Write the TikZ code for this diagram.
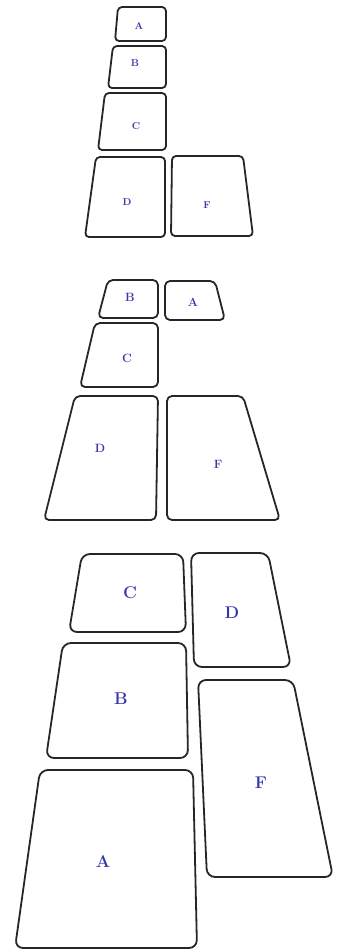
\documentclass[tikz,border=0pt]{standalone}
\definecolor{lbl}{RGB}{55,55,170}
\tikzset{
  pane/.style={draw=black!85, line width=1.8pt, line join=round},
  lab/.style={text=lbl, inner sep=0pt},
  labs/.style={lab, font=\bfseries\fontsize{10}{11}\selectfont},
  labm/.style={lab, font=\bfseries\fontsize{12}{13}\selectfont},
  labl/.style={lab, font=\bfseries\fontsize{17}{19}\selectfont}
}
\begin{document}
\begin{tikzpicture}[x=1pt,y=-1pt]
\useasboundingbox (0,0) rectangle (346,950);
% group 1
\begin{scope}[rounded corners=4pt]
\draw[pane] (118,7) -- (166,7) -- (166,41) -- (115,41) -- cycle;
\draw[pane] (113,46) -- (166,46) -- (166,88) -- (108,88) -- cycle;
\draw[pane] (105,93) -- (166,93) -- (166,150) -- (98,150) -- cycle;
\draw[pane] (96,157) -- (165,157) -- (165,237) -- (85,237) -- cycle;
\draw[pane] (172,156) -- (243,156) -- (253,236) -- (171,236) -- cycle;
\end{scope}
\node[labs] (a1) at (139,26) {A};
\node[labs] (b1) at (135,63) {B};
\node[labs] (c1) at (136,126) {C};
\node[labs] (d1) at (127,202) {D};
\node[labs] (f1) at (207,205) {F};
% group 2
\begin{scope}[rounded corners=5pt]
\draw[pane] (108,280) -- (158,280) -- (158,318) -- (98,318) -- cycle;
\draw[pane] (165,281) -- (215,281) -- (225,320) -- (165,320) -- cycle;
\draw[pane] (95,323) -- (158,323) -- (158,387) -- (80,387) -- cycle;
\draw[pane] (75,396) -- (158,396) -- (156,520) -- (44,520) -- cycle;
\draw[pane] (167,396) -- (243,396) -- (280,520) -- (167,520) -- cycle;
\end{scope}
\node[labm] (b2) at (130,297) {B};
\node[labm] (a2) at (193,302) {A};
\node[labm] (c2) at (127,358) {C};
\node[labm] (d2) at (100,448) {D};
\node[labm] (f2) at (218,464) {F};
% group 3
\begin{scope}[rounded corners=8pt]
\draw[pane] (82,554) -- (183,554) -- (186,632) -- (69,632) -- cycle;
\draw[pane] (191,553) -- (268,553) -- (291,667) -- (194,667) -- cycle;
\draw[pane] (63,643) -- (186,643) -- (188,758) -- (46,758) -- cycle;
\draw[pane] (198,680) -- (293,680) -- (333,877) -- (207,877) -- cycle;
\draw[pane] (40,770) -- (193,770) -- (197,948) -- (15,948) -- cycle;
\end{scope}
\node[labl] (c3) at (130,593) {C};
\node[labl] (d3) at (232,613) {D};
\node[labl] (b3) at (121,699) {B};
\node[labl] (f3) at (261,783) {F};
\node[labl] (a3) at (103,862) {A};
\end{tikzpicture}
\end{document}
